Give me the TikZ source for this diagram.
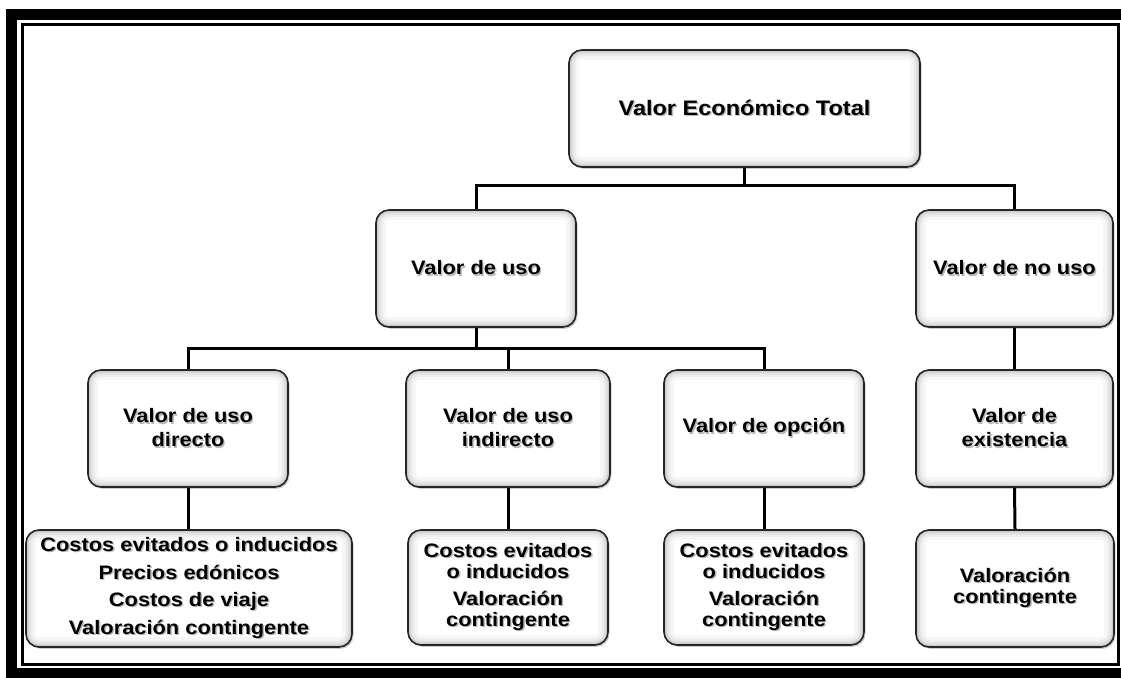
\documentclass[tikz,border=0pt]{standalone}
\usepackage{fontspec}
\setmainfont{Liberation Sans}[FakeStretch=1.12]
\usetikzlibrary{shadows}
\newcommand\shd[1]{\leavevmode\rlap{\kern1.4pt\raisebox{-1.4pt}{\textcolor{black!28}{#1}}}#1}
\tikzset{
 box/.style={draw=black!85, line width=1.6pt, rounded corners=13pt, fill=white, align=center, inner sep=0pt,
   font=\bfseries\fontsize{19.5}{24}\selectfont,
   drop shadow={shadow xshift=1.5pt, shadow yshift=-1.8pt, opacity=0.4},
   path picture={\foreach \w/\o in {20/0.035,13/0.045,8/0.06,4/0.08}{\draw[line width=\w pt, black, opacity=\o, rounded corners=13pt] (path picture bounding box.south west) rectangle (path picture bounding box.north east);}}},
 conn/.style={line width=3pt, black},
}
\begin{document}
\begin{tikzpicture}[x=1pt,y=-1pt]
\useasboundingbox (0,0) rectangle (1121,677);
\fill[white] (0,0) rectangle (1121,677);
% frame
\draw[line width=11pt] (11.5,14.5) rectangle (1140,673.5);
\draw[line width=3pt] (22,24.5) rectangle (1118,664);
% level 1
\node[box, minimum width=351pt, minimum height=117pt, font=\bfseries\fontsize{21}{25}\selectfont] (vet) at (744.5,108.5) {\shd{Valor Económico Total}};
% level 2
\node[box, minimum width=200pt, minimum height=117pt] (uso) at (476,268.5) {\shd{Valor de uso}};
\node[box, minimum width=197pt, minimum height=117pt] (nouso) at (1014.5,268.5) {\shd{Valor de no uso}};
% level 3
\node[box, minimum width=200pt, minimum height=117pt] (dir) at (188,428.5) {\shd{Valor de uso}\\\shd{directo}};
\node[box, minimum width=204pt, minimum height=117pt] (ind) at (508,428.5) {\shd{Valor de uso}\\\shd{indirecto}};
\node[box, minimum width=200pt, minimum height=117pt] (opc) at (764,428.5) {\shd{Valor de opción}};
\node[box, minimum width=197pt, minimum height=117pt] (exi) at (1014.5,428.5) {\shd{Valor de}\\\shd{existencia}};
% level 4
\node[box, minimum width=326pt, minimum height=117pt, font=\bfseries\fontsize{19.5}{27.5}\selectfont] (m1) at (189,588.5) {\shd{Costos evitados o inducidos}\\\shd{Precios edónicos}\\\shd{Costos de viaje}\\\shd{Valoración contingente}};
\node[box, minimum width=200pt, minimum height=115pt, font=\bfseries\fontsize{19.5}{21}\selectfont] (m2) at (508,587.5) {\shd{Costos evitados}\\\shd{o inducidos}\\[6pt]\shd{Valoración}\\\shd{contingente}};
\node[box, minimum width=200pt, minimum height=115pt, font=\bfseries\fontsize{19.5}{21}\selectfont] (m3) at (764,587.5) {\shd{Costos evitados}\\\shd{o inducidos}\\[6pt]\shd{Valoración}\\\shd{contingente}};
\node[box, minimum width=198pt, minimum height=117pt, font=\bfseries\fontsize{19.5}{21}\selectfont] (m4) at (1015,588.5) {\shd{Valoración}\\\shd{contingente}};
% connectors
\coordinate (b1) at (744.5,185);
\coordinate (b2) at (476,348);
\draw[conn] (vet.south) -- (b1);
\draw[conn] (uso.north) |- (b1) -| (nouso.north);
\draw[conn] (uso.south) -- (b2);
\draw[conn] (dir.north) |- (b2) -| (opc.north);
\draw[conn] (ind.north) -- (ind.north |- b2);
\draw[conn] (nouso.south) -- (exi.north);
\draw[conn] (dir.south) -- (dir.south |- m1.north);
\draw[conn] (ind.south) -- (m2.north);
\draw[conn] (opc.south) -- (m3.north);
\draw[conn] (exi.south) -- (m4.north);
\end{tikzpicture}
\end{document}
